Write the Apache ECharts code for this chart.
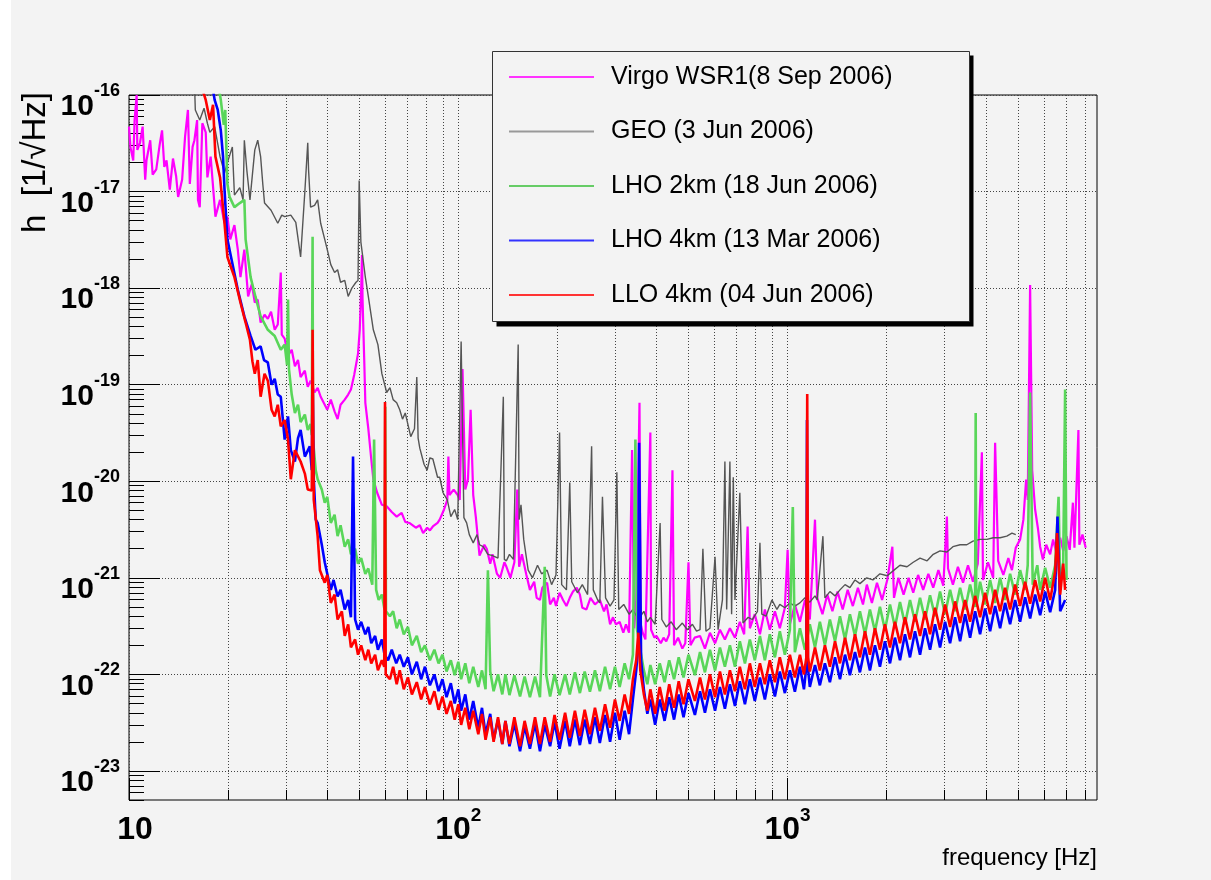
<!DOCTYPE html>
<html>
<head>
<meta charset="utf-8">
<title>Interferometer sensitivity 2006</title>
<script src="https://cdn.jsdelivr.net/npm/echarts@6/dist/echarts.min.js"></script>
<style>
  html, body { margin: 0; padding: 0; background: #fff; }
  #chart { width: 1211px; height: 880px; }
</style>
</head>
<body>
<div id="chart"></div>
<script>
// tick values (Hz on x, strain per sqrt(Hz) on y)
const xMajor = [10, 100, 1000]
const yMajor = [1e-23, 1e-22, 1e-21, 1e-20, 1e-19, 1e-18, 1e-17, 1e-16]
const mantissas = [2, 3, 4, 5, 6, 7, 8, 9]
const yDecades = [1e-24, 1e-23, 1e-22, 1e-21, 1e-20, 1e-19, 1e-18, 1e-17]

const seriesNames = [
  'Virgo WSR1(8 Sep 2006)',
  'GEO (3 Jun 2006)',
  'LHO 2km (18 Jun 2006)',
  'LHO 4km (13 Mar 2006)',
  'LLO 4km (04 Jun 2006)'
]
const seriesColors = ['#ff00ff', '#555555', '#59d659', '#0000ff', '#ff0000']
const legendColors = ['#ff33ff', '#999999', '#66cc66', '#3333ff', '#ff3333']

// [frequency, h]
const virgoData = [[10.0,4.7e-17],[10.1,2.9e-17],[10.3,2.1e-17],[10.4,5.5e-17],[10.55,1.0e-16],[10.6,2.7e-17],[10.8,3.2e-17],[11.0,4.7e-17],[11.2,1.33e-17],[11.3,2.1e-17],[11.6,3.4e-17],[11.8,1.5e-17],[12.1,1.7e-17],[12.4,3.1e-17],[12.6,4.3e-17],[12.8,1.8e-17],[13.0,2.1e-17],[13.3,1.05e-17],[13.6,2.2e-17],[13.9,1.45e-17],[14.1,8.8e-18],[14.5,1.33e-17],[14.8,3.7e-17],[15.1,7.0e-17],[15.3,1.2e-17],[15.6,2.9e-17],[15.8,3.4e-17],[16.1,5.5e-17],[16.2,8.2e-18],[16.4,6.9e-18],[16.7,5.1e-17],[17.1,4.1e-17],[17.3,1.4e-17],[17.7,2.3e-17],[18.3,5.5e-18],[18.9,8.2e-18],[19.5,4.7e-18],[19.9,5.5e-18],[20.3,3.2e-18],[20.9,4.5e-18],[21.4,2.5e-18],[21.8,1.3e-18],[22.4,2.5e-18],[23.0,8.2e-19],[23.6,1.1e-18],[24.1,7.1e-19],[24.6,7.6e-19],[25.1,4.4e-19],[25.8,5.3e-19],[26.4,4.8e-19],[27.0,5.7e-19],[27.7,3.7e-19],[28.3,4.2e-19],[28.9,1.45e-18],[29.1,3.3e-19],[29.7,3.0e-19],[30.4,2.0e-19],[31.2,2.3e-19],[31.9,1.55e-19],[32.6,1.8e-19],[33.2,1.2e-19],[34.2,1.4e-19],[34.9,9.5e-20],[35.6,1.1e-19],[36.6,8.3e-20],[37.4,9.3e-20],[38.2,7.5e-20],[39.3,6.2e-20],[40.0,5.5e-20],[41.0,7.0e-20],[42.1,5.3e-20],[43.0,4.4e-20],[43.9,6.2e-20],[45.2,7.0e-20],[46.3,7.9e-20],[47.2,8.9e-20],[48.3,1.27e-19],[48.9,1.6e-19],[49.6,2.1e-19],[50.2,3.7e-19],[50.7,9.6e-19],[51.0,2.2e-18],[51.2,7.6e-19],[51.8,1.8e-19],[52.2,6.5e-20],[53.3,3.5e-20],[54.4,1.7e-20],[55.2,1.05e-20],[56.7,7.6e-21],[58.6,5.7e-21],[60.6,5.5e-21],[62.8,4.8e-21],[65.0,4.3e-21],[67.3,4.7e-21],[69.0,3.8e-21],[71.0,3.7e-21],[74.3,3.3e-21],[76.4,3.5e-21],[78.2,2.9e-21],[80.4,3.3e-21],[82.0,3.1e-21],[83.7,3.4e-21],[86.5,3.7e-21],[87.8,4.0e-21],[90.5,5.1e-21],[92.6,6.4e-21],[93.3,1.8e-20],[94.0,7.2e-21],[96.8,8.2e-21],[99.6,7.2e-21],[101,6.4e-21],[103,1.45e-19],[105,8.2e-21],[107,1.05e-20],[109,5.5e-20],[111,7.2e-21],[113,4.3e-21],[116,1.7e-21],[120,2.2e-21],[122,2.0e-21],[125,1.4e-21],[127,1.75e-21],[131,1.1e-21],[134,1.0e-21],[138,1.45e-21],[140,1.3e-21],[144,1.0e-21],[148,1.45e-21],[151,8.2e-21],[153,1.3e-21],[156,1.75e-21],[161,1.07e-21],[165,7.5e-22],[170,9.1e-22],[173,6.2e-22],[177,5.9e-22],[180,7.9e-22],[186,8.9e-22],[190,5.3e-22],[195,6.2e-22],[198,5.1e-22],[203,7.0e-22],[208,5.9e-22],[213,5.1e-22],[218,6.2e-22],[223,7.2e-22],[229,7.9e-22],[234,6.7e-22],[238,4.9e-22],[245,4.7e-22],[252,6.2e-22],[260,5.3e-22],[269,5.9e-22],[277,4.5e-22],[282,5.3e-22],[289,3.3e-22],[295,3.9e-22],[301,3.3e-22],[309,3.5e-22],[317,2.7e-22],[323,3.3e-22],[330,2.7e-22],[337,2.1e-20],[342,3.0e-22],[347,5.9e-22],[355,6.5e-20],[358,3.3e-22],[363,2.7e-22],[370,2.3e-22],[383,3.2e-20],[385,2.9e-22],[394,2.4e-22],[400,2.5e-22],[412,2.1e-22],[420,2.4e-22],[428,2.2e-22],[437,2.6e-22],[447,1.3e-20],[452,2.0e-22],[465,2.4e-22],[479,1.85e-22],[489,2.1e-22],[500,1.45e-21],[507,2.0e-22],[522,2.4e-22],[542,2.5e-22],[561,1.85e-22],[581,2.7e-22],[602,2.1e-22],[623,2.9e-22],[645,2.3e-22],[668,3.0e-22],[692,2.4e-22],[716,3.5e-22],[738,2.6e-22],[756,3.4e-21],[768,3.0e-22],[795,4.2e-22],[824,2.6e-22],[853,4.7e-22],[883,2.9e-22],[915,4.5e-22],[947,3.0e-22],[981,4.9e-22],[1000,1.95e-21],[1016,3.3e-22],[1052,5.3e-22],[1090,3.5e-22],[1129,5.9e-22],[1168,3.7e-22],[1211,4.0e-21],[1230,6.2e-22],[1276,4.2e-22],[1320,6.7e-22],[1368,4.5e-22],[1418,7.2e-22],[1470,4.7e-22],[1522,7.5e-22],[1578,5.1e-22],[1635,7.9e-22],[1694,5.3e-22],[1740,8.5e-22],[1803,5.5e-22],[1868,8.9e-22],[1936,5.9e-22],[2007,9.5e-22],[2080,2.1e-21],[2104,6.2e-22],[2170,1.0e-21],[2250,6.7e-22],[2330,1.0e-21],[2407,7.0e-22],[2490,1.07e-21],[2580,7.5e-22],[2675,1.1e-21],[2768,7.9e-22],[2870,1.2e-21],[2970,8.3e-22],[3046,4.3e-21],[3070,1.25e-21],[3177,8.5e-22],[3290,1.3e-21],[3410,8.9e-22],[3530,1.35e-21],[3655,9.1e-22],[3780,1.4e-21],[3890,2.0e-20],[3920,9.5e-22],[4060,1.45e-21],[4210,1.0e-21],[4267,2.5e-20],[4360,1.5e-21],[4520,1.07e-21],[4680,1.6e-21],[4800,1.2e-21],[4930,2.05e-21],[5082,2.5e-21],[5200,4.0e-21],[5300,1.04e-20],[5360,6.4e-21],[5450,1.08e-18],[5530,1.3e-20],[5644,5.1e-21],[5760,3.2e-21],[5846,2.1e-21],[5960,1.55e-21],[6100,2.2e-21],[6270,1.75e-21],[6400,2.5e-21],[6560,1.75e-21],[6725,2.6e-21],[6870,1.9e-21],[7030,2.7e-21],[7190,1.95e-21],[7350,6.0e-21],[7430,2.05e-21],[7640,3.4e-20],[7690,2.2e-21],[7860,2.8e-21],[8040,2.05e-21]]

const geoData = [[15.8,1.4e-16],[15.9,7.0e-17],[16.4,5.5e-17],[16.9,7.3e-17],[17.3,5.1e-17],[17.6,4.1e-17],[18.2,4.7e-17],[18.9,2.3e-17],[19.5,1.55e-17],[19.9,2.0e-17],[20.6,2.9e-17],[20.9,9.2e-18],[21.7,1.1e-17],[22.2,8.2e-18],[22.4,3.4e-17],[22.8,1.65e-17],[23.3,8.2e-18],[23.7,1.5e-17],[24.1,2.7e-17],[24.6,3.4e-17],[25.1,2.3e-17],[25.5,1.17e-17],[25.8,7.6e-18],[27.0,6.4e-18],[28.3,4.7e-18],[29.1,5.7e-18],[29.7,5.5e-18],[31.0,5.7e-18],[32.1,4.8e-18],[33.2,2.1e-18],[34.2,1.0e-17],[34.9,3.2e-17],[35.1,1.67e-17],[35.6,6.9e-18],[36.6,7.2e-18],[37.4,8.2e-18],[38.2,4.7e-18],[39.3,3.2e-18],[40.0,2.5e-18],[41.0,1.75e-18],[42.1,1.45e-18],[43.0,1.55e-18],[43.9,1.15e-18],[45.2,1.2e-18],[46.3,8.2e-19],[47.5,1.0e-18],[48.9,1.15e-18],[49.6,1.2e-18],[50.0,1.3e-17],[50.6,3.0e-18],[52.2,1.3e-18],[53.3,8.2e-19],[55.2,3.7e-19],[57.0,2.6e-19],[58.6,1.3e-19],[60.6,8.3e-20],[62.0,9.3e-20],[63.4,7.0e-20],[65.0,6.5e-20],[66.4,5.5e-20],[67.7,4.4e-20],[69.0,5.1e-20],[71.7,2.9e-20],[73.6,3.5e-20],[74.8,1.2e-19],[75.5,2.8e-20],[76.4,2.2e-20],[78.7,1.5e-20],[80.4,1.3e-20],[82.0,1.75e-20],[83.7,1.7e-20],[86.5,1.1e-20],[87.8,1.1e-20],[89.9,7.6e-21],[92.6,6.4e-21],[94.9,4.3e-21],[97.5,5.1e-21],[99.6,4.0e-21],[102,2.8e-19],[104,4.2e-21],[106,3.7e-21],[108,2.8e-21],[111,2.3e-21],[114,2.8e-21],[116,2.2e-21],[119,2.1e-21],[123,1.75e-21],[127,1.7e-21],[132,1.6e-21],[137,7.5e-20],[138,1.55e-21],[140,1.5e-21],[143,1.75e-21],[147,1.55e-21],[152,2.6e-19],[153,4.0e-21],[155,5.7e-21],[158,2.5e-21],[163,1.2e-21],[168,1.0e-21],[174,1.35e-21],[179,1.1e-21],[186,1.2e-21],[192,8.5e-22],[198,1.07e-21],[203,3.2e-20],[206,8.5e-22],[213,7.5e-22],[218,9.7e-21],[221,9.1e-22],[230,7.0e-22],[238,8.5e-22],[247,6.7e-22],[254,2.3e-20],[257,7.5e-22],[265,5.9e-22],[269,5.5e-22],[274,6.9e-21],[280,6.2e-22],[289,5.1e-22],[297,5.9e-22],[303,1.24e-20],[307,4.7e-22],[318,5.3e-22],[330,4.2e-22],[339,4.7e-22],[352,3.7e-22],[366,4.5e-22],[375,3.5e-22],[383,3.9e-22],[396,3.3e-22],[410,3.7e-21],[415,3.7e-22],[428,3.1e-22],[443,3.5e-22],[459,2.9e-22],[479,3.4e-22],[496,2.9e-22],[514,3.3e-22],[529,2.8e-22],[542,2.9e-22],[553,2.0e-21],[565,2.8e-22],[581,3.0e-22],[602,1.65e-21],[615,2.9e-22],[634,5.9e-22],[645,1.6e-20],[653,4.7e-22],[668,1.6e-20],[676,4.2e-22],[684,1.1e-20],[692,5.9e-22],[716,7.6e-21],[732,3.4e-22],[759,3.9e-22],[781,3.7e-22],[810,4.5e-22],[824,2.3e-21],[835,4.2e-22],[860,4.0e-22],[896,5.9e-22],[928,4.7e-22],[947,5.3e-22],[981,4.9e-22],[1016,5.5e-22],[1052,5.1e-22],[1090,5.5e-22],[1129,6.2e-22],[1168,5.6e-22],[1211,6.5e-22],[1230,5.9e-22],[1280,2.7e-21],[1298,6.2e-22],[1344,7.2e-22],[1393,6.5e-22],[1442,7.5e-22],[1494,8.5e-22],[1546,7.9e-22],[1602,9.5e-22],[1658,8.7e-22],[1739,1.0e-21],[1816,9.5e-22],[1907,1.1e-21],[2007,1.05e-21],[2104,1.2e-21],[2194,1.35e-21],[2305,1.3e-21],[2407,1.45e-21],[2524,1.6e-21],[2652,1.5e-21],[2768,1.75e-21],[2903,1.9e-21],[3046,1.85e-21],[3177,2.1e-21],[3340,2.2e-21],[3500,2.2e-21],[3655,2.4e-21],[3841,2.5e-21],[4030,2.5e-21],[4210,2.6e-21],[4418,2.6e-21],[4630,2.7e-21],[4800,2.9e-21],[4930,2.8e-21]]

const lho2Data = [[18.6,1.4e-16],[19.0,8.9e-17],[19.4,4.9e-17],[19.6,7.0e-17],[19.9,1.2e-17],[20.2,8.8e-18],[20.9,6.9e-18],[21.7,7.6e-18],[22.4,8.2e-18],[22.6,3.2e-18],[23.4,1.3e-18],[24.2,8.2e-19],[25.1,5.1e-19],[26.4,3.7e-19],[27.7,3.2e-19],[28.9,2.3e-19],[29.7,2.6e-19],[30.2,1.6e-19],[30.4,7.6e-19],[30.6,1.45e-19],[31.2,7.9e-20],[31.9,5.1e-20],[32.6,6.2e-20],[33.2,4.1e-20],[34.2,4.9e-20],[34.9,3.4e-20],[35.6,3.9e-20],[35.9,3.0e-20],[36.1,3.4e-18],[36.2,2.7e-20],[36.9,1.3e-20],[37.4,1.05e-20],[38.5,8.2e-21],[39.3,6.0e-21],[40.0,6.9e-21],[41.0,3.7e-21],[42.1,4.5e-21],[43.0,2.7e-21],[43.9,3.5e-21],[45.2,2.1e-21],[46.3,2.5e-21],[47.2,1.75e-21],[48.6,2.0e-21],[49.6,1.4e-21],[50.7,1.6e-21],[52.2,1.1e-21],[53.3,1.25e-21],[54.8,8.5e-22],[55.5,2.7e-20],[56.3,7.5e-22],[57.3,5.9e-22],[58.6,6.7e-22],[59.7,4.7e-22],[60.0,5.9e-20],[60.3,4.5e-22],[62.0,4.0e-22],[63.4,4.5e-22],[65.0,3.0e-22],[66.4,3.7e-22],[68.3,2.6e-22],[70.3,3.1e-22],[72.3,2.0e-22],[74.8,2.5e-22],[77.1,1.7e-22],[79.2,2.0e-22],[82.0,1.4e-22],[84.6,1.8e-22],[87.1,1.3e-22],[89.5,1.6e-22],[92.1,1.07e-22],[94.9,1.4e-22],[97.5,9.8e-23],[100,1.35e-22],[102,8.9e-23],[105,1.3e-22],[108,8.1e-23],[111,1.2e-22],[115,7.4e-23],[118,1.1e-22],[121,7.0e-23],[123,1.2e-21],[125,1.07e-22],[128,6.7e-23],[132,1.0e-22],[136,6.2e-23],[139,1.0e-22],[143,6.1e-23],[148,9.8e-23],[154,5.9e-23],[159,9.5e-23],[165,5.8e-23],[171,9.5e-23],[177,5.8e-23],[183,1.3e-21],[185,9.8e-23],[190,5.9e-23],[196,1.0e-22],[203,6.1e-23],[211,1.0e-22],[218,6.2e-23],[226,1.05e-22],[234,6.4e-23],[242,1.07e-22],[251,6.6e-23],[260,1.1e-22],[269,6.7e-23],[279,1.2e-22],[289,7.0e-23],[299,1.2e-22],[309,7.4e-23],[320,1.3e-22],[330,8.9e-23],[339,1.6e-22],[345,2.7e-20],[349,2.9e-22],[357,1.8e-22],[366,1.1e-22],[375,7.9e-23],[383,1.25e-22],[396,7.9e-23],[409,1.3e-22],[423,8.3e-23],[437,1.4e-22],[452,8.9e-23],[467,1.5e-22],[483,9.3e-23],[500,1.6e-22],[523,9.8e-23],[542,1.7e-22],[561,1.05e-22],[581,1.8e-22],[602,1.1e-22],[623,1.9e-22],[645,1.2e-22],[668,2.0e-22],[692,1.2e-22],[716,2.2e-22],[742,1.3e-22],[768,2.3e-22],[795,1.4e-22],[824,2.5e-22],[853,1.4e-22],[883,2.6e-22],[915,1.5e-22],[947,2.8e-22],[981,1.6e-22],[1016,2.9e-22],[1037,5.4e-21],[1052,1.7e-22],[1090,3.0e-22],[1129,1.8e-22],[1168,3.3e-22],[1211,1.9e-22],[1253,3.5e-22],[1298,2.0e-22],[1344,3.7e-22],[1393,2.2e-22],[1442,4.0e-22],[1494,2.3e-22],[1546,4.2e-22],[1602,2.5e-22],[1658,4.5e-22],[1718,2.6e-22],[1778,4.7e-22],[1842,2.8e-22],[1907,5.0e-22],[1975,2.9e-22],[2046,5.3e-22],[2118,3.1e-22],[2194,5.6e-22],[2272,3.3e-22],[2353,5.9e-22],[2437,3.5e-22],[2524,6.2e-22],[2614,3.7e-22],[2707,6.6e-22],[2803,4.0e-22],[2903,7.2e-22],[3007,4.2e-22],[3114,7.5e-22],[3225,4.5e-22],[3340,7.9e-22],[3459,4.7e-22],[3582,8.5e-22],[3710,5.0e-22],[3725,5.1e-20],[3740,5.0e-22],[3841,9.1e-22],[3978,5.3e-22],[4120,9.5e-22],[4267,5.5e-22],[4418,1.0e-21],[4575,5.9e-22],[4738,1.1e-21],[4907,6.7e-22],[5082,1.2e-21],[5263,7.5e-22],[5360,1.35e-21],[5450,8.3e-20],[5550,8.5e-22],[5730,1.35e-21],[5846,7.5e-22],[6054,1.27e-21],[6270,7.9e-22],[6493,1.35e-21],[6650,6.9e-21],[6725,8.5e-22],[6870,1.45e-21],[6962,8.9e-20],[7030,9.5e-22]]

const lho4Data = [[17.8,1.4e-16],[18.2,8.9e-17],[18.6,7.0e-17],[19.0,4.3e-17],[19.3,2.3e-17],[19.5,1.05e-17],[19.9,3.2e-18],[20.3,2.3e-18],[21.4,9.6e-19],[22.4,5.1e-19],[23.4,3.2e-19],[24.2,2.3e-19],[25.1,2.5e-19],[25.7,1.8e-19],[26.4,1.7e-19],[27.1,1.0e-19],[27.7,1.15e-19],[28.3,7.9e-20],[28.9,7.5e-20],[29.7,2.7e-20],[30.4,4.7e-20],[31.0,2.1e-20],[31.9,1.6e-20],[32.6,2.8e-20],[33.2,3.4e-20],[34.2,1.8e-20],[35.4,2.3e-20],[35.9,1.3e-20],[36.1,1.2e-19],[36.4,1.05e-20],[36.9,4.0e-21],[37.4,3.7e-21],[38.5,2.2e-21],[39.3,1.45e-21],[40.0,1.1e-21],[41.0,7.5e-22],[41.8,9.5e-22],[43.0,6.4e-22],[43.9,7.5e-22],[45.2,4.7e-22],[46.3,5.9e-22],[47.2,3.9e-22],[47.9,1.8e-20],[48.6,3.7e-22],[49.6,2.9e-22],[50.7,3.5e-22],[52.2,2.6e-22],[53.3,3.1e-22],[54.4,2.1e-22],[55.9,2.5e-22],[57.0,1.8e-22],[58.6,2.3e-22],[59.7,1.6e-22],[61.2,1.4e-22],[62.8,1.8e-22],[64.8,1.3e-22],[66.4,1.6e-22],[68.3,1.2e-22],[70.3,1.5e-22],[72.3,1.0e-22],[74.8,1.35e-22],[77.1,8.9e-23],[79.2,1.2e-22],[82.0,7.7e-23],[84.6,1.0e-22],[87.1,6.7e-23],[89.5,8.9e-23],[92.1,5.8e-23],[94.9,8.1e-23],[97.5,5.0e-23],[100,7.0e-23],[102,4.2e-23],[105,6.2e-23],[108,3.4e-23],[111,5.3e-23],[115,2.8e-23],[118,4.5e-23],[121,2.4e-23],[125,3.9e-23],[128,2.1e-23],[132,3.4e-23],[136,1.9e-23],[139,3.3e-23],[143,1.8e-23],[148,3.1e-23],[154,1.6e-23],[159,2.9e-23],[165,1.7e-23],[171,3.1e-23],[177,1.6e-23],[183,3.0e-23],[190,1.8e-23],[196,3.2e-23],[203,1.7e-23],[211,3.3e-23],[218,1.8e-23],[226,3.4e-23],[234,1.85e-23],[242,3.4e-23],[251,1.9e-23],[260,3.6e-23],[269,1.95e-23],[279,3.8e-23],[289,2.0e-23],[299,4.0e-23],[309,2.1e-23],[320,4.2e-23],[330,2.4e-23],[339,5.5e-23],[347,1.1e-22],[352,2.0e-22],[354,2.5e-20],[359,1.4e-22],[366,7.0e-23],[375,3.9e-23],[383,5.5e-23],[396,3.0e-23],[409,5.5e-23],[423,3.3e-23],[437,5.8e-23],[452,3.4e-23],[467,6.2e-23],[483,3.6e-23],[500,6.4e-23],[523,3.8e-23],[542,6.7e-23],[561,4.0e-23],[581,7.0e-23],[602,4.2e-23],[623,7.4e-23],[645,4.4e-23],[668,7.9e-23],[692,4.7e-23],[716,8.5e-23],[742,4.9e-23],[768,8.9e-23],[795,5.3e-23],[824,9.3e-23],[853,5.5e-23],[883,1.0e-22],[915,5.9e-23],[947,1.07e-22],[981,6.4e-23],[1016,1.1e-22],[1052,6.6e-23],[1090,1.2e-22],[1121,7.0e-23],[1140,1.2e-22],[1145,4.3e-20],[1152,1.2e-22],[1168,7.4e-23],[1211,1.25e-22],[1253,7.7e-23],[1298,1.3e-22],[1344,8.3e-23],[1393,1.5e-22],[1442,8.9e-23],[1494,1.6e-22],[1546,9.8e-23],[1602,1.7e-22],[1658,1.05e-22],[1718,1.9e-22],[1778,1.1e-22],[1842,2.0e-22],[1907,1.2e-22],[1975,2.2e-22],[2046,1.3e-22],[2118,2.4e-22],[2194,1.4e-22],[2272,2.6e-22],[2353,1.5e-22],[2437,2.8e-22],[2524,1.6e-22],[2614,3.0e-22],[2707,1.8e-22],[2803,3.3e-22],[2903,1.9e-22],[3007,3.5e-22],[3114,2.1e-22],[3225,3.9e-22],[3340,2.2e-22],[3459,4.2e-22],[3582,2.4e-22],[3710,4.5e-22],[3841,2.6e-22],[3978,4.8e-22],[4120,2.8e-22],[4267,5.1e-22],[4418,3.0e-22],[4575,5.5e-22],[4738,3.3e-22],[4907,5.9e-22],[5082,3.5e-22],[5263,6.3e-22],[5450,3.8e-22],[5644,6.7e-22],[5846,4.1e-22],[6054,7.2e-22],[6270,4.4e-22],[6493,7.5e-22],[6600,4.3e-21],[6725,4.5e-22],[6962,5.9e-22]]

const lloData = [[16.4,1.4e-16],[17.1,8.9e-17],[17.6,5.5e-17],[18.0,7.9e-17],[18.3,2.3e-17],[18.9,1.4e-17],[19.5,4.7e-18],[19.9,2.1e-18],[20.9,1.3e-18],[21.8,7.1e-19],[22.6,4.4e-19],[23.3,2.9e-19],[23.7,1.75e-19],[24.1,1.3e-19],[24.6,1.8e-19],[25.1,7.5e-20],[25.8,1.3e-19],[26.4,1.1e-19],[27.1,5.5e-20],[27.7,4.7e-20],[28.3,6.2e-20],[28.9,3.7e-20],[29.7,4.3e-20],[30.4,2.7e-20],[31.0,1.05e-20],[31.9,2.1e-20],[33.2,1.6e-20],[34.2,1.2e-20],[34.9,8.2e-21],[35.9,8.0e-21],[36.1,3.7e-19],[36.4,6.4e-21],[37.4,2.7e-21],[38.0,1.2e-21],[39.3,8.9e-22],[40.0,1.07e-21],[41.0,5.5e-22],[42.1,6.7e-22],[43.0,3.7e-22],[44.3,4.5e-22],[45.2,2.5e-22],[46.3,3.3e-22],[47.2,1.9e-22],[48.6,2.3e-22],[49.6,1.6e-22],[50.7,2.0e-22],[52.2,1.4e-22],[53.3,1.8e-22],[54.4,1.3e-22],[55.9,1.6e-22],[57.0,1.1e-22],[58.6,1.4e-22],[59.6,1.2e-22],[59.9,6.6e-20],[60.2,1.0e-22],[62.0,8.9e-23],[63.4,1.2e-22],[65.0,7.9e-23],[66.4,1.1e-22],[68.3,7.0e-23],[70.3,9.3e-23],[72.3,6.2e-23],[74.8,8.3e-23],[77.1,5.5e-23],[79.2,7.4e-23],[82.0,4.9e-23],[84.6,6.7e-23],[87.1,4.3e-23],[89.5,5.9e-23],[92.1,3.9e-23],[94.9,5.3e-23],[97.5,3.4e-23],[100,4.9e-23],[102,3.0e-23],[105,4.5e-23],[108,2.7e-23],[111,4.2e-23],[115,2.4e-23],[118,3.9e-23],[121,2.1e-23],[125,3.6e-23],[128,2.0e-23],[132,3.6e-23],[136,1.9e-23],[139,3.3e-23],[143,1.9e-23],[148,3.6e-23],[154,1.8e-23],[159,3.3e-23],[165,1.9e-23],[171,3.6e-23],[177,1.9e-23],[183,3.6e-23],[190,2.0e-23],[196,3.8e-23],[203,2.1e-23],[211,4.0e-23],[218,2.2e-23],[226,4.2e-23],[234,2.3e-23],[242,4.3e-23],[251,2.4e-23],[260,4.5e-23],[269,2.6e-23],[279,4.9e-23],[289,2.8e-23],[299,5.5e-23],[309,3.3e-23],[320,6.2e-23],[330,3.9e-23],[339,8.9e-23],[347,1.4e-22],[352,2.7e-22],[357,1.1e-22],[366,6.2e-23],[375,4.2e-23],[383,7.0e-23],[396,3.9e-23],[409,7.4e-23],[423,4.2e-23],[437,7.9e-23],[452,4.5e-23],[467,8.5e-23],[483,4.9e-23],[500,8.9e-23],[523,5.3e-23],[542,9.3e-23],[561,5.5e-23],[581,1.0e-22],[602,5.8e-23],[623,1.07e-22],[645,6.2e-23],[668,1.1e-22],[692,6.7e-23],[716,1.2e-22],[742,7.0e-23],[768,1.3e-22],[795,7.4e-23],[824,1.3e-22],[853,7.9e-23],[883,1.4e-22],[915,8.3e-23],[947,1.5e-22],[981,8.9e-23],[1016,1.6e-22],[1052,9.3e-23],[1090,1.6e-22],[1121,1.0e-22],[1140,1.5e-22],[1147,8.0e-20],[1154,1.5e-22],[1168,1.07e-22],[1211,1.9e-22],[1253,1.1e-22],[1298,2.0e-22],[1344,1.2e-22],[1393,2.2e-22],[1442,1.3e-22],[1494,2.4e-22],[1546,1.4e-22],[1602,2.6e-22],[1658,1.5e-22],[1718,2.8e-22],[1778,1.6e-22],[1842,3.0e-22],[1907,1.8e-22],[1975,3.3e-22],[2046,1.9e-22],[2118,3.5e-22],[2194,2.1e-22],[2272,3.9e-22],[2353,2.3e-22],[2437,4.2e-22],[2524,2.5e-22],[2614,4.5e-22],[2707,2.6e-22],[2803,4.9e-22],[2903,2.9e-22],[3007,5.3e-22],[3114,3.1e-22],[3225,5.7e-22],[3340,3.4e-22],[3459,5.9e-22],[3582,3.5e-22],[3710,6.5e-22],[3841,3.9e-22],[3978,7.0e-22],[4120,4.2e-22],[4267,7.5e-22],[4418,4.5e-22],[4575,7.9e-22],[4738,4.7e-22],[4907,8.5e-22],[5082,5.1e-22],[5263,9.1e-22],[5450,5.4e-22],[5644,9.5e-22],[5846,5.7e-22],[6054,1.0e-21],[6270,5.9e-22],[6493,1.16e-21],[6580,2.9e-21],[6725,6.7e-22],[6870,1.4e-21],[6962,7.5e-22]]

const allData = [virgoData, geoData, lho2Data, lho4Data, lloData]
// the noisy detectors are drawn heavier so their noise bands read as bands
const lineWidths = [2.2, 1.4, 2.6, 2.6, 2.6]

const FONT = '"Liberation Sans", Arial, Helvetica, sans-serif'
const X_MIN = 10
const X_MAX = 8700
const Y_MIN = 5e-24
const Y_MAX = 1e-16

// minor ticks at 2..9 inside every decade
const xMinor = []
xMajor.forEach(d => mantissas.forEach(m => { if (m * d <= X_MAX) xMinor.push(m * d) }))
const yMinor = []
yDecades.forEach(d => mantissas.forEach(m => { if (m * d >= Y_MIN * 0.999 && m * d <= Y_MAX) yMinor.push(m * d) }))

const gridDots = { type: [1, 2], color: '#444', width: 1 }
const labelBold = { fontWeight: 'bold', fontFamily: FONT, color: '#000' }

const chart = echarts.init(document.getElementById('chart'))

const option = {
  animation: false,
  backgroundColor: '#f3f3f3',
  textStyle: { fontFamily: FONT },
  grid: {
    left: 129, top: 95, right: 114, bottom: 80,
    show: true, borderColor: '#000', borderWidth: 1, backgroundColor: 'transparent'
  },
  legend: {
    orient: 'vertical',
    left: 509,
    top: 62,
    padding: 0,
    itemGap: 24.5,
    itemWidth: 85,
    itemHeight: 2,
    icon: 'rect',
    selectedMode: false,
    z: 20,
    textStyle: { fontSize: 25, fontFamily: FONT, color: '#000', lineHeight: 30, padding: [0, 0, 0, 12] },
    data: seriesNames.map((n, i) => ({ name: n, itemStyle: { color: legendColors[i] } }))
  },
  xAxis: [
    {
      type: 'log', logBase: 10, min: X_MIN, max: X_MAX,
      axisLine: { show: false },
      axisTick: { inside: true, length: 22, customValues: xMajor, lineStyle: { color: '#000' } },
      axisLabel: {
        customValues: xMajor,
        margin: 6,
        formatter: function(v) {
          const e = Math.round(Math.log10(v))
          return e === 1 ? '{c|10}' : '{b|10}{s|' + e + '}'
        },
        rich: {
          b: Object.assign({ fontSize: 32, padding: [8, 0, 0, 0] }, labelBold),
          c: Object.assign({ fontSize: 32, padding: [8, 0, 0, 12] }, labelBold),
          s: Object.assign({ fontSize: 19, verticalAlign: 'top' }, labelBold)
        }
      },
      splitLine: { show: true, lineStyle: gridDots }
    },
    {
      type: 'log', logBase: 10, min: X_MIN, max: X_MAX, position: 'bottom',
      axisLine: { show: false },
      axisTick: { inside: true, length: 10, customValues: xMinor, lineStyle: { color: '#000' } },
      axisLabel: { show: false },
      splitLine: { show: true, lineStyle: gridDots }
    }
  ],
  yAxis: [
    {
      type: 'log', logBase: 10, min: Y_MIN, max: Y_MAX,
      axisLine: { show: false },
      axisTick: { inside: true, length: 31, customValues: yMajor, lineStyle: { color: '#000' } },
      axisLabel: {
        customValues: yMajor,
        margin: 9,
        padding: [14, 0, 0, 0],
        formatter: function(v) {
          return '{b|10}{s|' + Math.round(Math.log10(v)) + '}'
        },
        rich: {
          b: Object.assign({ fontSize: 30, padding: [10, 0, 0, 0] }, labelBold),
          s: Object.assign({ fontSize: 18, verticalAlign: 'top' }, labelBold)
        }
      },
      splitLine: { show: true, lineStyle: gridDots }
    },
    {
      type: 'log', logBase: 10, min: Y_MIN, max: Y_MAX, position: 'left',
      axisLine: { show: false },
      axisTick: { inside: true, length: 15, customValues: yMinor, lineStyle: { color: '#000' } },
      axisLabel: { show: false },
      splitLine: { show: false }
    }
  ],
  graphic: [
    { type: 'rect', z: 1, shape: { x: 0, y: 0, width: 11, height: 880 }, style: { fill: '#ffffff' } },
    // legend box with its hard shadow
    { type: 'rect', z: 10, shape: { x: 496.5, y: 55.5, width: 477, height: 271 }, style: { fill: '#000' } },
    { type: 'rect', z: 11, shape: { x: 492.5, y: 51.5, width: 477, height: 270 }, style: { fill: '#f3f3f3', stroke: '#333', lineWidth: 1 } },
    {
      type: 'text', z: 12, x: 1097, y: 858,
      style: { text: 'frequency [Hz]', font: '24px ' + FONT, fill: '#000', textAlign: 'right', textVerticalAlign: 'middle', align: 'right', verticalAlign: 'middle' }
    },
    {
      type: 'text', z: 12, x: 36, y: 92, rotation: Math.PI / 2,
      style: { text: 'h  [1/√Hz]', font: '33px ' + FONT, fill: '#000', textAlign: 'right', textVerticalAlign: 'middle', align: 'right', verticalAlign: 'middle' }
    }
  ],
  series: seriesNames.map(function(name, i) {
    return {
      name: name,
      type: 'line',
      data: allData[i],
      symbol: 'none',
      showSymbol: false,
      clip: true,
      z: 2 + i * 0.1,
      lineStyle: { color: seriesColors[i], width: lineWidths[i] },
      itemStyle: { color: seriesColors[i] }
    }
  })
}

chart.setOption(option)
</script>
</body>
</html>
